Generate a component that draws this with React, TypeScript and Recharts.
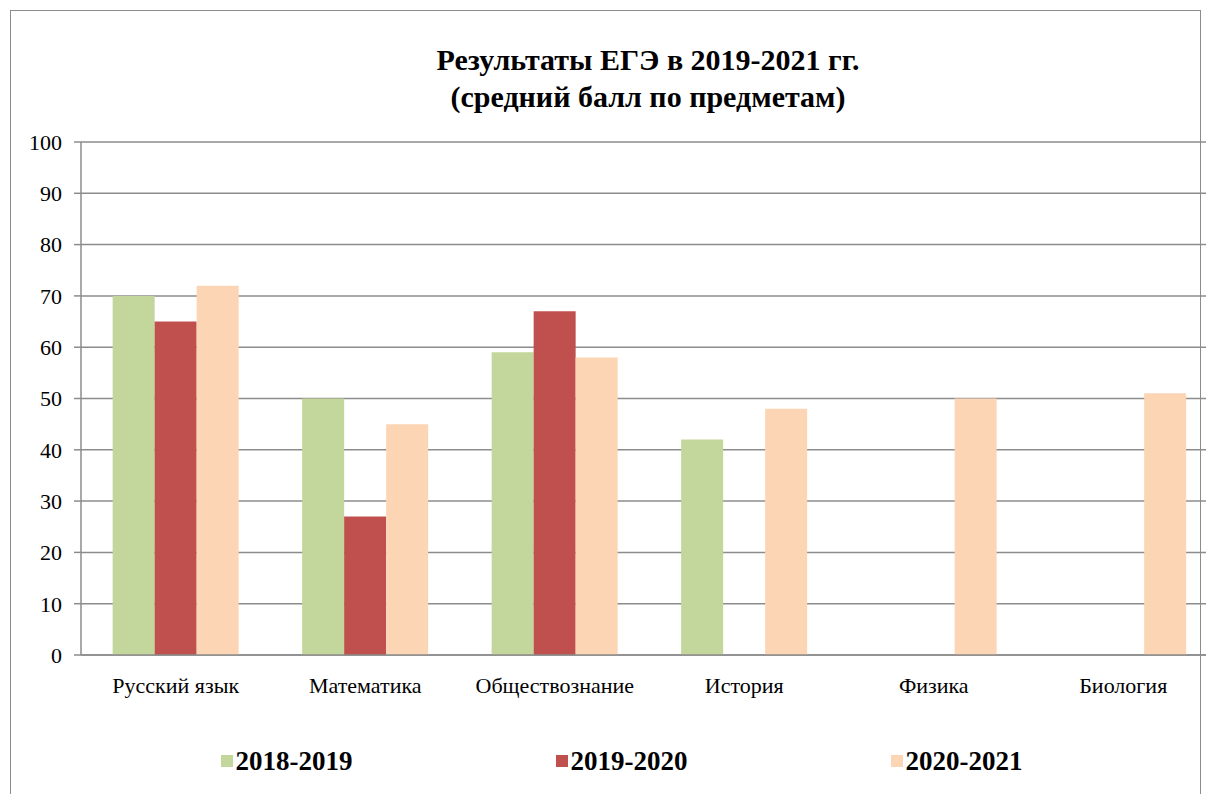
import { BarChart, Bar, XAxis, YAxis, CartesianGrid, Legend } from 'recharts';

const subjects = ['Русский язык', 'Математика', 'Обществознание', 'История', 'Физика', 'Биология'];
const y2019 = [70, 50, 59, 42, null, null];
const y2020 = [65, 27, 67, null, null, null];
const y2021 = [72, 45, 58, 48, 50, 51];
const seriesNames = ['2018-2019', '2019-2020', '2020-2021'];
const seriesColors = ['#C3D69B', '#C0504D', '#FCD5B5'];
const yTicks = [0, 10, 20, 30, 40, 50, 60, 70, 80, 90, 100];

const data = subjects.map((name, i) => ({
  name,
  a: y2019[i],
  b: y2020[i],
  c: y2021[i],
}));

const serif = '"Liberation Serif", Tinos, "Times New Roman", serif';

// legend items spaced wide apart like the Excel original
const renderLegend = () => (
  <div
    style={{
      display: 'flex',
      justifyContent: 'center',
      gap: 203,
      paddingTop: 62,
      paddingLeft: 14,
      fontFamily: serif,
      fontWeight: 'bold',
      fontSize: 27,
      lineHeight: '28px',
      color: '#000',
    }}
  >
    {seriesNames.map((n, i) => (
      <div key={n} style={{ display: 'flex', alignItems: 'center' }}>
        <span style={{ width: 12, height: 12, background: seriesColors[i], marginRight: 3 }} />
        <span>{n}</span>
      </div>
    ))}
  </div>
);

export default function App() {
  return (
    <div
      style={{
        position: 'absolute',
        left: 0,
        top: 0,
        width: 1206,
        height: 794,
        overflow: 'hidden',
        background: '#fff',
      }}
    >
      <div
        style={{
          position: 'absolute',
          left: 10,
          top: 10,
          width: 1189,
          height: 820,
          border: '1px solid #8c8c8c',
        }}
      />
      <div
        style={{
          position: 'absolute',
          left: 0,
          top: 41,
          width: 1296,
          textAlign: 'center',
          fontFamily: serif,
          fontWeight: 'bold',
          fontSize: 30,
          lineHeight: '37px',
          color: '#000',
        }}
      >
        Результаты ЕГЭ в 2019-2021 гг.
        <br />
        (средний балл по предметам)
      </div>
      <div style={{ position: 'absolute', left: 0, top: 0 }}>
        <BarChart
          width={1218}
          height={794}
          data={data}
          margin={{ top: 142, right: 0, left: 11, bottom: 14 }}
          barCategoryGap="16.7%"
          barGap={0}
        >
          <CartesianGrid vertical={false} stroke="#8c8c8c" strokeWidth={1.5} />
          <XAxis
            dataKey="name"
            height={30}
            tickLine={false}
            tickSize={8}
            tickMargin={14}
            axisLine={{ stroke: '#8c8c8c', strokeWidth: 1.5 }}
            tick={{ fontFamily: serif, fontSize: 22, fill: '#000' }}
            interval={0}
          />
          <YAxis
            width={70}
            domain={[0, 100]}
            ticks={yTicks}
            tickSize={7}
            tickMargin={12}
            axisLine={{ stroke: '#8c8c8c', strokeWidth: 1.5 }}
            tickLine={{ stroke: '#8c8c8c', strokeWidth: 1.5 }}
            tick={{ fontFamily: serif, fontSize: 22, fill: '#000' }}
          />
          <Legend verticalAlign="bottom" height={95} content={renderLegend} />
          <Bar dataKey="a" name={seriesNames[0]} fill={seriesColors[0]} isAnimationActive={false} />
          <Bar dataKey="b" name={seriesNames[1]} fill={seriesColors[1]} isAnimationActive={false} />
          <Bar dataKey="c" name={seriesNames[2]} fill={seriesColors[2]} isAnimationActive={false} />
        </BarChart>
      </div>
    </div>
  );
}
